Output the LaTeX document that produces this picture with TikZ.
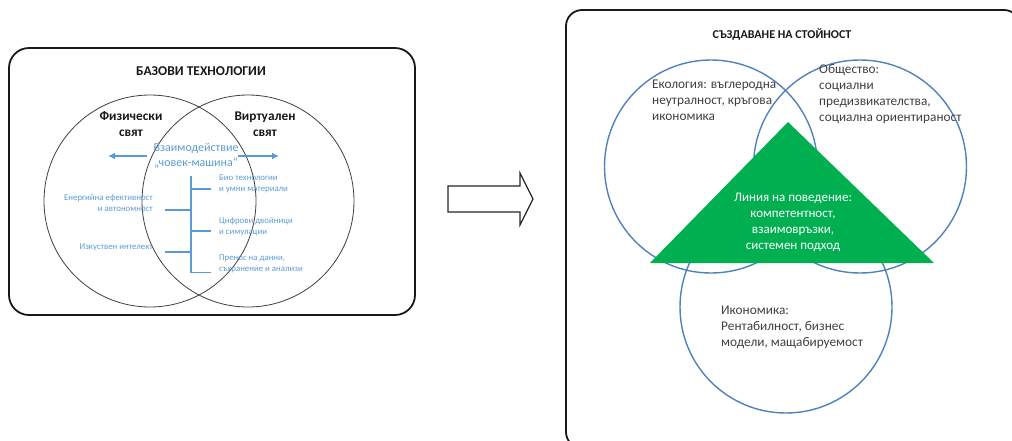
\documentclass[tikz,border=0pt]{standalone}
\usepackage{fontspec}
\setmainfont{Carlito}
\usetikzlibrary{arrows.meta}
\definecolor{lblue}{HTML}{5B9BD5}
\definecolor{cblue}{HTML}{4F81BD}
\definecolor{tgreen}{HTML}{00B050}
\definecolor{dtext}{HTML}{404040}
\begin{document}
\begin{tikzpicture}[x=1pt,y=-1pt,
  framebox/.style={draw=black!90, line width=1.8pt},
  greycirc/.style={circle, draw=black!75, line width=0.8pt, minimum size=#1, inner sep=0pt},
  bluecirc/.style={circle, draw=cblue, line width=1.4pt, minimum size=#1, inner sep=0pt},
  title/.style={font=\fontsize{#1}{14}\selectfont\bfseries, text=black!90, inner sep=0pt},
  world/.style={font=\fontsize{13.3}{16}\selectfont\bfseries, text=black!90, align=center, inner sep=0pt},
  smallr/.style={font=\fontsize{8.8}{11}\selectfont, text=lblue, align=left, anchor=west, inner sep=0pt},
  smalll/.style={font=\fontsize{8.8}{11}\selectfont, text=lblue, align=right, anchor=east, inner sep=0pt},
  bline/.style={draw=lblue, line width=1.2pt},
  barrow/.style={draw=lblue, line width=2pt, -{Latex[length=7pt,width=7pt]}},
  vtext/.style={font=\fontsize{13.3}{16}\selectfont, text=dtext, align=left, anchor=north west, inner sep=0pt}
]
\useasboundingbox (0,0) rectangle (1012,440);
\clip (0,0) rectangle (1012,440);

% ---------- left panel ----------
\draw[framebox, rounded corners=20pt] (9,48) rectangle (415,315);
\node[title=13.5] (lt) at (201,71) {БАЗОВИ ТЕХНОЛОГИИ};
\node[greycirc=212pt] (phys) at (150,201) {};
\node[greycirc=212pt] (virt) at (248,201) {};
\node[world] (physt) at (131,124) {Физически\\свят};
\node[world] (virtt) at (265,124) {Виртуален\\свят};
\node[font=\fontsize{12}{15}\selectfont, text=lblue, align=center, inner sep=0pt] (hm) at (196,155.5) {Взаимодействие\\„човек-машина“};
\coordinate (la) at (108,156);
\coordinate (ra) at (279,156);
\coordinate (ls) at (147,156);
\coordinate (rs) at (238,156);
\draw[barrow] (ls) -- (la);
\draw[barrow] (rs) -- (ra);

% bracket
\coordinate (vt) at (191,176);
\coordinate (vb) at (191,273);
\draw[bline] (vt) -- (vb);
\coordinate (r1) at (191,189); \coordinate (r1e) at (211,189);
\coordinate (r2) at (191,231); \coordinate (r2e) at (211,231);
\coordinate (r3) at (191,272.4); \coordinate (r3e) at (211,272.4);
\coordinate (l1) at (191,210); \coordinate (l1e) at (165,210);
\coordinate (l2) at (191,252); \coordinate (l2e) at (165,252);
\draw[bline] (r1) -- (r1e);
\draw[bline] (r2) -- (r2e);
\draw[bline] (r3) -- (r3e);
\draw[bline] (l1) -- (l1e);
\draw[bline] (l2) -- (l2e);

\node[smallr] (bio) at (219,183.5) {Био технологии\\и умни материали};
\node[smallr] (dig) at (219,227) {Цифрови двойници\\и симулации};
\node[smallr] (dat) at (219,263.5) {Пренос на данни,\\съхранение и анализи};
\node[smalll] (ene) at (153,203.5) {Енергийна ефективност\\и автономност};
\node[smalll] (ai) at (153,247) {Изкуствен интелект};

% ---------- hollow arrow ----------
\draw[draw=black!85, line width=1.2pt, fill=white, line join=miter]
  (448,186) -- (520,186) -- (520,173) -- (533,199) -- (520,225) -- (520,212) -- (448,212) -- cycle;

% ---------- right panel ----------
\draw[framebox, rounded corners=16pt] (566,10) rectangle (1020,448);
\node[title=12] (rt) at (782,35) {СЪЗДАВАНЕ НА СТОЙНОСТ};
\node[bluecirc=213pt] (eco) at (711,166.5) {};
\node[bluecirc=213pt] (soc) at (860,166.5) {};
\node[bluecirc=212pt] (econ) at (786,307) {};
\coordinate (tapex) at (788,122);
\coordinate (tl) at (650,263);
\coordinate (tr) at (934,263);
\fill[tgreen] (tapex) -- (tl) -- (tr) -- cycle;

\node[vtext] (ecot) at (652,80) {Екология: въглеродна\\неутралност, кръгова\\икономика};
\node[vtext] (soct) at (819,64) {Общество:\\социални\\предизвикателства,\\социална ориентираност};
\node[vtext] (econt) at (721,306) {Икономика:\\Рентабилност, бизнес\\модели, мащабируемост};
\node[font=\fontsize{13}{16}\selectfont, text=white, align=center, inner sep=0pt] (beh) at (793,222) {Линия на поведение:\\компетентност,\\взаимовръзки,\\системен подход};
\end{tikzpicture}
\end{document}
